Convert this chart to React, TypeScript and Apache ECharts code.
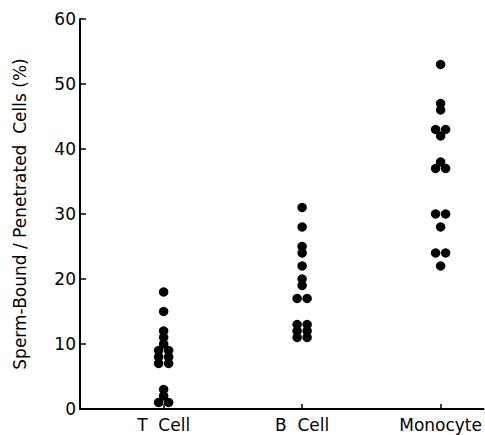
import React, { useEffect, useRef } from "react";
import * as echarts from "echarts";

const categories = ["T  Cell", "B  Cell", "Monocyte"];
const tCell = [18, 15, 12, 11, 10, 9, 9, 8, 8, 7, 7, 3, 2, 1, 1];
const bCell = [31, 28, 25, 24, 22, 20, 19, 17, 17, 13, 13, 12, 12, 11, 11];
const monocyte = [53, 47, 46, 43, 43, 42, 38, 37, 37, 30, 30, 28, 24, 24, 22];
const yTicks = [0, 10, 20, 30, 40, 50, 60];

const groups = [tCell, bCell, monocyte];
const catPositions = categories.map((_, i) => i + 1);

function buildData() {
  const out: any[] = [];
  groups.forEach((vals, gi) => {
    const counts: Record<number, number> = {};
    vals.forEach((v) => (counts[v] = (counts[v] || 0) + 1));
    const seen: Record<number, number> = {};
    vals.forEach((v) => {
      const n = counts[v];
      const k = seen[v] || 0;
      seen[v] = k + 1;
      const dx = n > 1 ? (k - (n - 1) / 2) * 10 : 0;
      out.push({ value: [catPositions[gi], v], symbolOffset: [dx, 0] });
    });
  });
  return out;
}

export default function App() {
  const ref = useRef<HTMLDivElement>(null);
  useEffect(() => {
    if (!ref.current) return;
    const chart = echarts.init(ref.current, null, { renderer: "svg" });
    const font = "DejaVu Sans, Liberation Sans, Arial, sans-serif";
    chart.setOption({
      animation: false,
      backgroundColor: "#ffffff",
      grid: { left: 80, right: 0, top: 19, bottom: 26, containLabel: false },
      xAxis: {
        type: "value",
        min: 0.396,
        max: 3.31,
        axisLine: { show: true, lineStyle: { color: "#000", width: 2 } },
        axisTick: {
          show: true,
          inside: true,
          length: 5,
          customValues: catPositions,
          lineStyle: { color: "#000", width: 1.5 },
        },
        splitLine: { show: false },
        axisLabel: {
          color: "#000",
          fontSize: 17,
          fontFamily: font,
          margin: 7,
          customValues: catPositions,
          formatter: (v: number) => categories[Math.round(v) - 1] || "",
        },
      },
      yAxis: {
        type: "value",
        min: yTicks[0],
        max: yTicks[yTicks.length - 1],
        interval: 10,
        name: "Sperm-Bound / Penetrated  Cells (%)",
        nameLocation: "middle",
        nameGap: 52,
        nameTextStyle: { color: "#000", fontSize: 17, fontFamily: font },
        axisLine: { show: true, lineStyle: { color: "#000", width: 2 } },
        axisTick: { show: true, inside: true, length: 6, lineStyle: { color: "#000", width: 1.5 } },
        splitLine: { show: false },
        axisLabel: { color: "#000", fontSize: 17, fontFamily: font, margin: 4 },
      },
      series: [
        {
          type: "scatter",
          symbol: "circle",
          symbolSize: 9.5,
          itemStyle: { color: "#000", opacity: 1 },
          data: buildData(),
        },
      ],
    });
    return () => chart.dispose();
  }, []);
  return (
    <div
      ref={ref}
      style={{ position: "fixed", left: 0, top: 0, width: 485, height: 435, background: "#fff" }}
    />
  );
}
